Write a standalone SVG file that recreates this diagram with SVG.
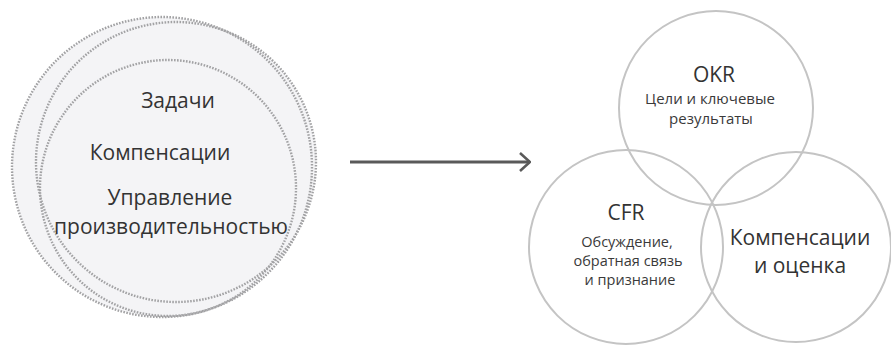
<svg xmlns="http://www.w3.org/2000/svg" width="891" height="351" viewBox="0 0 891 351">
<style>
.dot{fill:none;stroke:#a2a2a4;stroke-width:2.4;stroke-dasharray:1.6 1.4}
.bg{fill:#f4f4f6;stroke:none}
.ring{fill:none;stroke:#c4c4c4;stroke-width:2}
text{font-family:"Open Sans","Noto Sans","DejaVu Sans",sans-serif;text-anchor:middle;fill:#333}
.big{font-size:21px}
.sm{font-size:15px;fill:#3a3a3a}
.md{font-size:14.5px;fill:#3a3a3a}
</style>
<defs>
<marker id="chev" viewBox="0 0 12 20" refX="11" refY="10" markerWidth="12" markerHeight="20" markerUnits="userSpaceOnUse" orient="auto">
<path d="M1,1 L11,10 L1,19" fill="none" stroke="#5a5a5a" stroke-width="2.6"/>
</marker>
</defs>
<g id="old-system">
<circle class="bg" cx="162" cy="167" r="150"/>
<circle class="bg" cx="176" cy="162" r="140"/>
<circle class="dot" cx="162" cy="167" r="150"/>
<circle class="dot" cx="176" cy="162" r="140"/>
<circle class="dot" cx="168" cy="188" r="128"/>
<text class="big" x="178" y="108">Задачи</text>
<text class="big" x="160" y="160">Компенсации</text>
<text class="big" x="170" y="205">Управление</text>
<text class="big" x="171" y="234">производительностью</text>
</g>
<g id="connectors">
<line x1="350" y1="162" x2="530" y2="162" stroke="#5a5a5a" stroke-width="3" marker-end="url(#chev)"/>
</g>
<g id="okr">
<circle class="ring" cx="716" cy="108" r="97"/>
<text class="big" x="714" y="82">OKR</text>
<text class="sm" x="710" y="104">Цели и ключевые</text>
<text class="sm" x="711" y="124">результаты</text>
</g>
<g id="cfr">
<circle class="ring" cx="626" cy="247" r="97"/>
<text class="big" x="626" y="220">CFR</text>
<text class="md" x="627" y="247">Обсуждение,</text>
<text class="md" x="628" y="266">обратная связь</text>
<text class="md" x="630" y="285">и признание</text>
</g>
<g id="compensation">
<circle class="ring" cx="796" cy="247" r="95"/>
<text class="big" x="800" y="245">Компенсации</text>
<text class="big" x="800" y="273">и оценка</text>
</g>
</svg>
